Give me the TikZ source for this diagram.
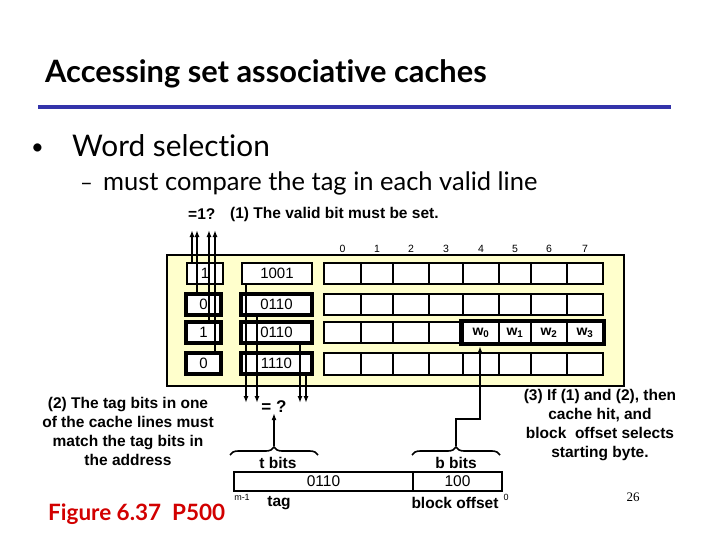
\documentclass[tikz,border=0pt]{standalone}
\usepackage{fontspec}
\setmainfont{Liberation Sans}
\newfontfamily\comic[Ligatures=NoCommon]{Lato}
\newfontfamily\serifnum{Liberation Serif}
\usetikzlibrary{arrows.meta,decorations.pathreplacing}
\definecolor{cacheyellow}{RGB}{255,255,204}
\definecolor{titleblue}{RGB}{51,51,170}
\definecolor{figred}{RGB}{210,0,0}
\newcommand\mybox[7]{%
  \pgfmathsetmacro\myboxw{#5-#3}\pgfmathsetmacro\myboxh{#6-#4}%
  \node[#2, minimum width=\myboxw pt, minimum height=\myboxh pt] (#1) at ({(#3+#5)/2},{(#4+#6)/2}) {#7};}
\begin{document}
\begin{tikzpicture}[x=1pt,y=-1pt,
  cell/.style={draw, line width=1.6pt, fill=white, inner sep=0pt, font=\fontsize{15}{18}\selectfont},
  tcell/.style={cell, line width=4pt},
  ann/.style={inner sep=0pt, font=\fontsize{15.5}{19}\selectfont\bfseries},
  colnum/.style={inner sep=0pt, font=\fontsize{10.5}{12}\selectfont},
  wire/.style={line width=1.6pt},
  arr/.style={wire, -{Latex[length=7pt,width=5pt]}},
  bracestyle/.style={line width=1.6pt, decorate, decoration={brace, amplitude=8pt}},
  wlab/.style={inner sep=0pt, font=\fontsize{14}{16}\selectfont\bfseries}]
\useasboundingbox[fill=white] (0,0) rectangle (720,540);

% title
\node[anchor=base west, inner sep=0pt, font=\comic\bfseries\fontsize{30.8}{34}\selectfont] (title) at (45,83) {Accessing set associative caches};
\coordinate (bl) at (38,107); \coordinate (br) at (671,107);
\draw[titleblue, line width=4pt] (bl) -- (br);
\node[anchor=base west, inner sep=0pt, font=\comic\fontsize{22}{26}\selectfont] (bul) at (31,155) {\textbullet};
\node[anchor=base west, inner sep=0pt, font=\comic\fontsize{29.8}{34}\selectfont] (ws) at (72,157) {Word selection};
\node[anchor=base west, inner sep=0pt, font=\comic\fontsize{22}{26}\selectfont] (dash) at (80,191) {–};
\node[anchor=base west, inner sep=0pt, font=\comic\fontsize{25.5}{30}\selectfont] (mc) at (103,191) {must compare the tag in each valid line};

% annotation (1)
\node[ann, anchor=west] (eq1) at (188,214) {=1?};
\node[ann, anchor=west] (a1) at (230,214) {(1) The valid bit must be set.};

% cache box
\mybox{cache}{draw, line width=1.6pt, fill=cacheyellow}{167}{255}{624}{386}{}

% column numbers and data cells
\foreach \c/\xa/\xb in {0/324/361,1/361/393,2/393/429,3/429/463,4/463/499,5/499/531,6/531/567,7/567/603}{
  \node[colnum] (n\c) at ({(\xa+\xb)/2},249) {\c};
  \foreach \r/\ya/\yb in {1/263/284,2/294/315,3/322/343,4/353/375}{
    \mybox{d\r\c}{cell}{\xa}{\ya}{\xb}{\yb}{}
  }
}
\node[wlab] (w0) at (d34) {w\textsubscript{0}};
\node[wlab] (w1) at (d35) {w\textsubscript{1}};
\node[wlab] (w2) at (d36) {w\textsubscript{2}};
\node[wlab] (w3) at (d37) {w\textsubscript{3}};
\mybox{wgrp}{draw, line width=4pt}{461}{321}{604}{344}{}

% valid and tag boxes
\mybox{v1}{cell}{187}{263}{223}{284}{1}
\mybox{v2}{tcell}{186}{294}{221}{315}{0}
\mybox{v3}{tcell}{186}{322}{221}{343}{1}
\mybox{v4}{tcell}{186}{353}{221}{374}{0}
\mybox{t1}{cell}{242}{263}{312}{284}{1001}
\mybox{t2}{tcell}{241}{294}{312}{315}{0110}
\mybox{t3}{tcell}{241}{322}{312}{343}{0110}
\mybox{t4}{tcell}{241}{353}{312}{374}{1110}

% valid bit wires
\coordinate (u1) at (192,230); \coordinate (u2) at (197,230);
\coordinate (u3) at (209,230); \coordinate (u4) at (215,230);
\draw[arr] (v1.north -| u1) -- (u1);
\draw[arr] (v2.north -| u2) -- (u2);
\draw[arr] (v3.north -| u3) -- (u3);
\draw[arr] (v4.north -| u4) -- (u4);

% tag wires
\coordinate (dn1) at (246,403); \coordinate (dn2) at (257,403);
\coordinate (dn3) at (300,403); \coordinate (dn4) at (306,403);
\draw[arr] (t1.south -| dn1) -- (dn1);
\draw[arr] (t2.south -| dn2) -- (dn2);
\draw[arr] (t3.south -| dn3) -- (dn3);
\draw[arr] (t4.south -| dn4) -- (dn4);

\node[ann, font=\fontsize{17}{19}\selectfont\bfseries] (cmp) at (274,407) {=\ ?};

% address
\mybox{af}{cell, font=\fontsize{15.5}{18}\selectfont}{234}{472}{413}{491}{0110}
\mybox{bf}{cell, font=\fontsize{15.5}{18}\selectfont}{413}{472}{502}{491}{100}
\coordinate (tbl) at (230,455); \coordinate (tbr) at (318,455);
\draw[bracestyle] (tbl) -- (tbr);
\coordinate (ttip) at (274,446);
\draw[arr] (ttip) -- (cmp.south);
\coordinate (bbl) at (412,455); \coordinate (bbr) at (500,455);
\draw[bracestyle] (bbl) -- (bbr);
\coordinate (btip) at (456,446);
\coordinate (bend) at (480,419);
\draw[arr] (btip) |- (bend) -- (wgrp.south -| bend);

\node[ann] (tb) at (278,463) {t bits};
\node[ann] (bb) at (456,463) {b bits};
\node[inner sep=0pt, font=\fontsize{9}{10}\selectfont] (m1) at (242,497) {m-1};
\node[ann] (tg) at (279,503) {tag};
\node[ann] (bo) at (455,503) {block offset};
\node[inner sep=0pt, font=\fontsize{9}{10}\selectfont] (z0) at (506,497) {0};

% annotations (2) and (3)
\node[ann, align=center] (a2) at (128,431) {(2) The tag bits in one\\of the cache lines must\\match the tag bits in\\the address};
\node[ann, align=center] (a3) at (600,425.5) {(3) If (1) and (2), then\\cache hit, and\\block\ \ offset selects\\starting byte.};

\node[anchor=base west, inner sep=0pt, text=figred, font=\comic\bfseries\fontsize{22.5}{26}\selectfont] (fig) at (48,520) {Figure 6.37\ \ P500};
\node[inner sep=0pt, font=\serifnum\fontsize{13}{15}\selectfont] (pg) at (633,497) {26};
\end{tikzpicture}
\end{document}
